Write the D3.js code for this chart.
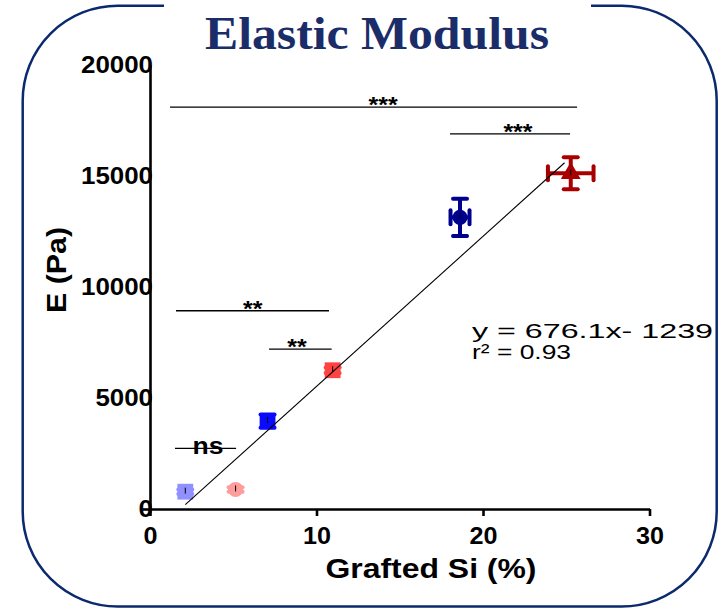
<!DOCTYPE html>
<html>
<head>
<meta charset="utf-8">
<script src="https://cdn.jsdelivr.net/npm/d3@7"></script>
<style>
  body { margin: 0; background: #fff; }
  svg { display: block; font-family: Arial, "Liberation Sans", sans-serif; }
</style>
</head>
<body>
<div id="chart"></div>
<script>
// grafted Si (%) vs elastic modulus (Pa), one point per sample
const siPct   = [2.12, 5.14, 7.06, 10.97, 18.62, 25.27];
const modulus = [780, 880, 3960, 6250, 13140, 15120];
const siErr   = [0, 0, 0, 0, 0.57, 1.37];
const modErr  = [100, 100, 300, 120, 840, 720];
const colors  = ['#9090ff', '#ff9c9c', '#0a0aff', '#ff4242', '#00008f', '#a80000'];
const shapes  = ['square', 'circle', 'square', 'square', 'circle', 'triangle'];

// linear fit shown on the chart
const fitSlope = 676.1;
const fitIntercept = -1239;
const fitRange = [2.12, 24.9];

// significance brackets
const sigLabels = ['***', '***', '**', '**', 'ns'];
const sigFrom   = [1.2, 18.02, 1.56, 7.15, 1.5];
const sigTo     = [25.65, 25.23, 10.75, 10.91, 5.17];
const sigLevel  = [18100, 16900, 8930, 7200, 2730];
const sigTextX  = [14.0, 22.1, 6.17, 8.83, 3.48];

const xTicks = [0, 10, 20, 30];
const yTicks = [0, 5000, 10000, 15000, 20000];

const W = 726, H = 609;
const svg = d3.select('#chart').append('svg')
  .attr('width', W)
  .attr('height', H);

// rounded frame with a gap for the title
svg.append('rect')
  .attr('x', 22.7).attr('y', 5.7)
  .attr('width', 694).attr('height', 600.8)
  .attr('rx', 95).attr('ry', 95)
  .attr('fill', 'none')
  .attr('stroke', '#0b2a6e')
  .attr('stroke-width', 2.5);
svg.append('rect')
  .attr('x', 164).attr('y', 0)
  .attr('width', 427).attr('height', 12)
  .attr('fill', '#fff');

svg.append('text')
  .attr('x', 377).attr('y', 49)
  .attr('text-anchor', 'middle')
  .attr('font-family', '"Liberation Serif", "Times New Roman", serif')
  .attr('font-weight', 'bold')
  .attr('font-size', 46)
  .attr('fill', '#1b2d69')
  .attr('textLength', 344)
  .attr('lengthAdjust', 'spacingAndGlyphs')
  .text('Elastic Modulus');

const x = d3.scaleLinear().domain([0, 30]).range([150, 649.5]);
const y = d3.scaleLinear().domain([0, 20000]).range([509, 65]);

const xAxis = d3.axisBottom(x).tickValues(xTicks).tickSize(7).tickSizeOuter(0).tickPadding(12)
  .tickFormat(d3.format('d'));
const yAxis = d3.axisLeft(y).tickValues(yTicks).tickSize(7).tickSizeOuter(0).tickPadding(-10)
  .tickFormat(d3.format('d'));

const gx = svg.append('g')
  .attr('transform', `translate(0, ${y(0)})`)
  .call(xAxis);
const gy = svg.append('g')
  .attr('transform', `translate(${x(0)}, 0)`)
  .call(yAxis);

[gx, gy].forEach(g => {
  g.select('.domain').attr('stroke', '#000').attr('stroke-width', 2.6);
  g.selectAll('.tick line').attr('stroke', '#000').attr('stroke-width', 2.6);
  g.selectAll('.tick text')
    .attr('fill', '#000')
    .attr('font-family', 'Arial, "Liberation Sans", sans-serif')
    .attr('font-weight', 'bold')
    .attr('font-size', 23);
});
gy.selectAll('.tick text')
  .attr('textLength', function() { return this.textContent.length * 14.4; })
  .attr('lengthAdjust', 'spacingAndGlyphs');
gx.selectAll('.tick text')
  .attr('textLength', function() { return this.textContent.length * 14; })
  .attr('lengthAdjust', 'spacingAndGlyphs');
gy.selectAll('.tick line').attr('opacity', (d, i) => i === 0 ? 1 : 0);

// axis titles
svg.append('text')
  .attr('x', 431).attr('y', 578)
  .attr('text-anchor', 'middle')
  .attr('font-weight', 'bold')
  .attr('font-size', 27)
  .attr('textLength', 211)
  .attr('lengthAdjust', 'spacingAndGlyphs')
  .text('Grafted Si (%)');

svg.append('text')
  .attr('transform', 'translate(66, 270) rotate(-90)')
  .attr('text-anchor', 'middle')
  .attr('font-weight', 'bold')
  .attr('font-size', 28)
  .attr('textLength', 86)
  .attr('lengthAdjust', 'spacingAndGlyphs')
  .text('E (Pa)');

// significance brackets
const sig = svg.append('g');
sigLabels.forEach((lab, i) => {
  sig.append('line')
    .attr('x1', x(sigFrom[i])).attr('x2', x(sigTo[i]))
    .attr('y1', y(sigLevel[i])).attr('y2', y(sigLevel[i]))
    .attr('stroke', '#000')
    .attr('stroke-width', 1.3);
  const isNs = lab === 'ns';
  sig.append('text')
    .attr('x', x(sigTextX[i]))
    .attr('y', y(sigLevel[i]) + (isNs ? 6 : 5))
    .attr('text-anchor', 'middle')
    .attr('font-weight', 'bold')
    .attr('font-size', isNs ? 24 : 22)
    .attr('textLength', isNs ? 31 : lab.length * 9.7)
    .attr('lengthAdjust', 'spacingAndGlyphs')
    .text(lab);
});

// points with error bars
const pts = svg.append('g');
siPct.forEach((xv, i) => {
  const cx = x(xv), cy = y(modulus[i]);
  const col = colors[i];
  const g = pts.append('g');
  if (modErr[i] > 0) {
    const y1 = y(modulus[i] + modErr[i]), y2 = y(modulus[i] - modErr[i]);
    g.append('line').attr('x1', cx).attr('x2', cx).attr('y1', y1).attr('y2', y2)
      .attr('stroke', col).attr('stroke-width', 4);
    [y1, y2].forEach(yy => g.append('line')
      .attr('x1', cx - 7).attr('x2', cx + 7).attr('y1', yy).attr('y2', yy)
      .attr('stroke', col).attr('stroke-width', 4).attr('stroke-linecap', 'round'));
  }
  if (siErr[i] > 0) {
    const x1 = x(xv - siErr[i]), x2 = x(xv + siErr[i]);
    g.append('line').attr('x1', x1).attr('x2', x2).attr('y1', cy).attr('y2', cy)
      .attr('stroke', col).attr('stroke-width', 4);
    [x1, x2].forEach(xx => g.append('line')
      .attr('x1', xx).attr('x2', xx).attr('y1', cy - 7).attr('y2', cy + 7)
      .attr('stroke', col).attr('stroke-width', 4).attr('stroke-linecap', 'round'));
  }
  const sym = shapes[i] === 'square' ? d3.symbolSquare
            : shapes[i] === 'triangle' ? d3.symbolTriangle : d3.symbolCircle;
  const size = shapes[i] === 'square' ? 250 : shapes[i] === 'triangle' ? 170 : 180;
  g.append('path')
    .attr('transform', `translate(${cx}, ${cy})`)
    .attr('d', d3.symbol().type(sym).size(size)())
    .attr('fill', col);
  // little dark tick in the middle of each marker
  g.append('line')
    .attr('x1', cx).attr('x2', cx).attr('y1', cy - 4).attr('y2', cy + 2)
    .attr('stroke', '#000').attr('stroke-width', 1);
});

// trend line on top
svg.append('line')
  .attr('x1', x(fitRange[0])).attr('y1', y(fitSlope * fitRange[0] + fitIntercept))
  .attr('x2', x(fitRange[1])).attr('y2', y(fitSlope * fitRange[1] + fitIntercept))
  .attr('stroke', '#000')
  .attr('stroke-width', 1.1);

svg.append('text')
  .attr('x', 472).attr('y', 338)
  .attr('font-size', 21)
  .attr('textLength', 241)
  .attr('lengthAdjust', 'spacingAndGlyphs')
  .text('y = 676.1x- 1239');
svg.append('text')
  .attr('x', 472).attr('y', 359)
  .attr('font-size', 21)
  .attr('textLength', 99)
  .attr('lengthAdjust', 'spacingAndGlyphs')
  .text('r² = 0.93');
</script>
</body>
</html>
